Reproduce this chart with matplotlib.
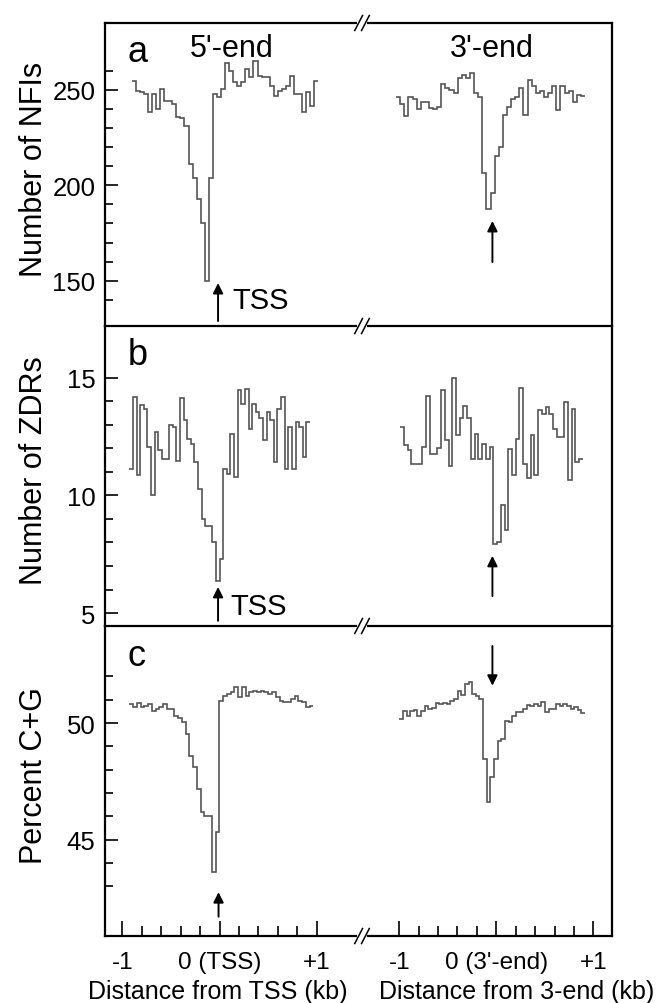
import numpy as np
import matplotlib.pyplot as plt
from matplotlib.transforms import blended_transform_factory

plt.rcParams['font.family'] = ['Liberation Sans', 'DejaVu Sans']

# one value per step
nfi_5 = [254.7, 249.5, 248.6, 247.7, 238.2, 247.7, 240.0, 250.5, 244.0, 244.0,
         242.5, 236.0, 235.5, 231.0, 211.0, 204.0, 193.0, 180.0, 150.0, 204.0,
         247.7, 246.0, 250.5, 263.8, 260.0, 254.0, 252.0, 254.0, 260.8, 256.5,
         265.0, 257.3, 256.5, 256.5, 252.0, 246.8, 249.5, 250.3, 252.0, 257.3,
         247.7, 247.7, 238.2, 248.6, 241.6, 254.7]
nfi_3 = [246.0, 242.5, 236.5, 246.5, 245.0, 240.0, 243.5, 243.5, 240.5, 240.0,
         241.0, 253.0, 251.0, 250.0, 248.5, 256.0, 258.0, 256.0, 259.0, 248.5,
         246.5, 206.5, 187.5, 196.0, 215.5, 220.0, 237.0, 241.0, 245.0, 246.0,
         251.0, 237.0, 255.0, 252.0, 248.5, 249.5, 246.0, 248.5, 252.0, 239.5,
         252.0, 248.5, 249.5, 243.5, 247.5, 247.0]
zdr_5 = [11.14, 14.19, 10.85, 13.83, 13.69, 12.06, 10.0, 12.7, 11.92, 11.56,
         11.56, 12.98, 12.91, 11.45, 14.12, 13.19, 12.41, 12.2, 11.42, 10.28,
         9.0, 8.72, 8.72, 8.0, 6.38, 7.3, 11.14, 10.92, 12.63, 10.78,
         14.47, 13.9, 14.54, 12.84, 13.9, 13.55, 13.27, 12.34, 13.55, 13.19,
         11.42, 13.69, 14.19, 11.14, 12.91, 11.14, 13.12, 12.91, 11.63, 13.12]
zdr_3 = [12.91, 12.16, 11.92, 11.35, 11.35, 11.35, 12.06, 14.23, 11.78, 11.78,
         12.02, 14.47, 12.34, 11.25, 14.97, 12.55, 13.27, 13.8, 13.3, 11.53,
         12.63, 11.53, 12.2, 11.53, 12.06, 7.94, 8.0, 9.6, 8.54, 11.96,
         10.85, 12.41, 14.57, 11.35, 10.74, 12.58, 10.88, 13.62, 13.44, 13.76,
         13.48, 12.84, 12.49, 12.49, 13.98, 10.64, 13.66, 11.42, 11.53]
gc_5 = [50.82, 50.67, 50.86, 50.67, 50.74, 50.82, 50.53, 50.6, 50.67, 50.82,
        50.6, 50.6, 50.31, 50.2, 50.03, 49.53, 48.6, 48.1, 47.17, 46.17,
        46.02, 46.02, 43.6, 45.31, 50.96, 51.17, 51.24, 51.32, 51.53, 51.1,
        51.53, 51.17, 51.32, 51.39, 51.32, 51.39, 51.32, 51.24, 51.32, 51.1,
        50.96, 50.89, 50.89, 51.03, 51.17, 50.96, 50.89, 50.67, 50.74]
gc_3 = [50.17, 50.53, 50.31, 50.53, 50.57, 50.31, 50.53, 50.74, 50.6, 50.63,
        50.86, 50.82, 50.86, 50.82, 50.96, 51.03, 51.39, 51.2, 51.67, 51.77,
        51.24, 51.17, 51.03, 48.45, 46.6, 47.67, 48.45, 49.24, 49.31, 50.1,
        50.03, 50.31, 50.46, 50.46, 50.6, 50.77, 50.74, 50.82, 50.74, 50.89,
        50.46, 50.6, 50.6, 50.82, 50.74, 50.82, 50.74, 50.6, 50.67, 50.57, 50.43]

# extent of each trace in kb
span_5 = [(-0.905, 1.019), (-0.93, 0.933), (-0.93, 0.967)]
span_3 = [(-1.033, 0.915), (-0.992, 0.892), (-1.0, 0.915)]

OFFSET = 2.853   # position of the 3'-end block on the shared axis
BREAK = 1.469

ylabels = ['Number of NFIs', 'Number of ZDRs', 'Percent C+G']
letters = ['a', 'b', 'c']
ylims = [(126.3, 285), (4.45, 17.2), (40.87, 54.16)]
major_y = [[150, 200, 250], [5, 10, 15], [45, 50]]
minor_y = [np.arange(140, 261, 10), np.arange(5, 16), np.arange(43, 53)]

fig = plt.figure(figsize=(6.56, 10.04), dpi=100)
boxes = [[0.1601, 0.6743, 0.7729, 0.3018],
         [0.1601, 0.3755, 0.7729, 0.2988],
         [0.1601, 0.0667, 0.7729, 0.3088]]
axes = [fig.add_axes(b) for b in boxes]

series = [(nfi_5, nfi_3), (zdr_5, zdr_3), (gc_5, gc_3)]
line_c = '#555555'


def draw_break(ax, y):
    tr = blended_transform_factory(ax.transData, ax.transAxes)
    ax.plot([BREAK - 0.05, BREAK + 0.05], [y, y], color='white', lw=4,
            transform=tr, clip_on=False, zorder=10, solid_capstyle='butt')
    dy = 7.5 / (ax.bbox.height)
    for dx in (-0.035, 0.035):
        ax.plot([BREAK + dx - 0.04, BREAK + dx + 0.04], [y - dy, y + dy],
                color='black', lw=1.1, transform=tr, clip_on=False, zorder=11)


for i, ax in enumerate(axes):
    v5, v3 = series[i]
    e5 = np.linspace(span_5[i][0], span_5[i][1], len(v5) + 1)
    e3 = np.linspace(span_3[i][0], span_3[i][1], len(v3) + 1) + OFFSET
    ax.stairs(v5, e5, baseline=None, color=line_c, lw=1.2)
    ax.stairs(v3, e3, baseline=None, color=line_c, lw=1.2)

    ax.set_facecolor('none')
    ax.set_xlim(-1.18, 4.046)
    ax.set_ylim(*ylims[i])
    for s in ax.spines.values():
        s.set_linewidth(1.6)
    if i > 0:
        ax.spines['top'].set_visible(False)

    ax.set_yticks(major_y[i])
    ax.set_yticks(minor_y[i], minor=True)
    ax.tick_params(axis='y', which='both', direction='in', labelsize=18.5,
                   width=1.2, pad=7)
    ax.tick_params(axis='y', which='major', length=9.5)
    ax.tick_params(axis='y', which='minor', length=5.5)
    ax.set_ylabel(ylabels[i], fontsize=22)
    ax.yaxis.set_label_coords(-0.11, 0.52)

    tr = blended_transform_factory(ax.transAxes, ax.transAxes)
    ax.text(0.045, 0.875, letters[i], transform=tr, fontsize=26,
            va='baseline', ha='left')

    if i < 2:
        ax.set_xticks([])
    draw_break(ax, 0)
    if i == 0:
        draw_break(ax, 1)

# x axis of the bottom panel
ax = axes[2]
major_x = [-1, 0, 1, OFFSET - 1, OFFSET, OFFSET + 1]
xlabels = ['-1', '0 (TSS)', '+1', '-1', "0 (3'-end)", '+1']
minor_x = [v for v in np.round(np.arange(-0.8, 0.81, 0.2), 2) if v != 0]
minor_x = minor_x + [v + OFFSET for v in minor_x]
ax.set_xticks(major_x)
ax.set_xticklabels(xlabels)
ax.set_xticks(minor_x, minor=True)
ax.tick_params(axis='x', which='both', direction='in', labelsize=17.5,
               width=1.2, pad=11)
ax.tick_params(axis='x', which='major', length=11)
ax.tick_params(axis='x', which='minor', length=7)

fig.text(0.3316, 0.0115, 'Distance from TSS (kb)', fontsize=18,
         ha='center', va='center')
fig.text(0.788, 0.0115, 'Distance from 3-end (kb)', fontsize=18,
         ha='center', va='center')

# labels and arrows
a, b, c = axes
ta = blended_transform_factory(a.transData, a.transAxes)
a.text(0.124, 0.891, "5'-end", transform=ta, fontsize=22, ha='center',
       va='baseline')
a.text(OFFSET - 0.045, 0.891, "3'-end", transform=ta, fontsize=22,
       ha='center', va='baseline')

arrow = dict(arrowstyle='-|>', color='black', lw=1.4, mutation_scale=15,
             shrinkA=0, shrinkB=0)
a.annotate('', xy=(-0.015, 148.8), xytext=(-0.015, 128.9), arrowprops=arrow)
a.text(0.13, 139.9, 'TSS', fontsize=21, va='center', ha='left')
a.annotate('', xy=(OFFSET - 0.04, 181.3), xytext=(OFFSET - 0.04, 159.8),
           arrowprops=arrow)
b.annotate('', xy=(-0.015, 6.11), xytext=(-0.015, 4.67), arrowprops=arrow)
b.text(0.108, 5.3, 'TSS', fontsize=21, va='center', ha='left')
b.annotate('', xy=(OFFSET - 0.04, 7.43), xytext=(OFFSET - 0.04, 5.72),
           arrowprops=arrow)
c.annotate('', xy=(OFFSET - 0.04, 51.6), xytext=(OFFSET - 0.04, 53.3),
           arrowprops=arrow)
c.annotate('', xy=(-0.01, 42.75), xytext=(-0.01, 41.7), arrowprops=arrow)

fig.savefig('out.png', dpi=100, facecolor='white')
